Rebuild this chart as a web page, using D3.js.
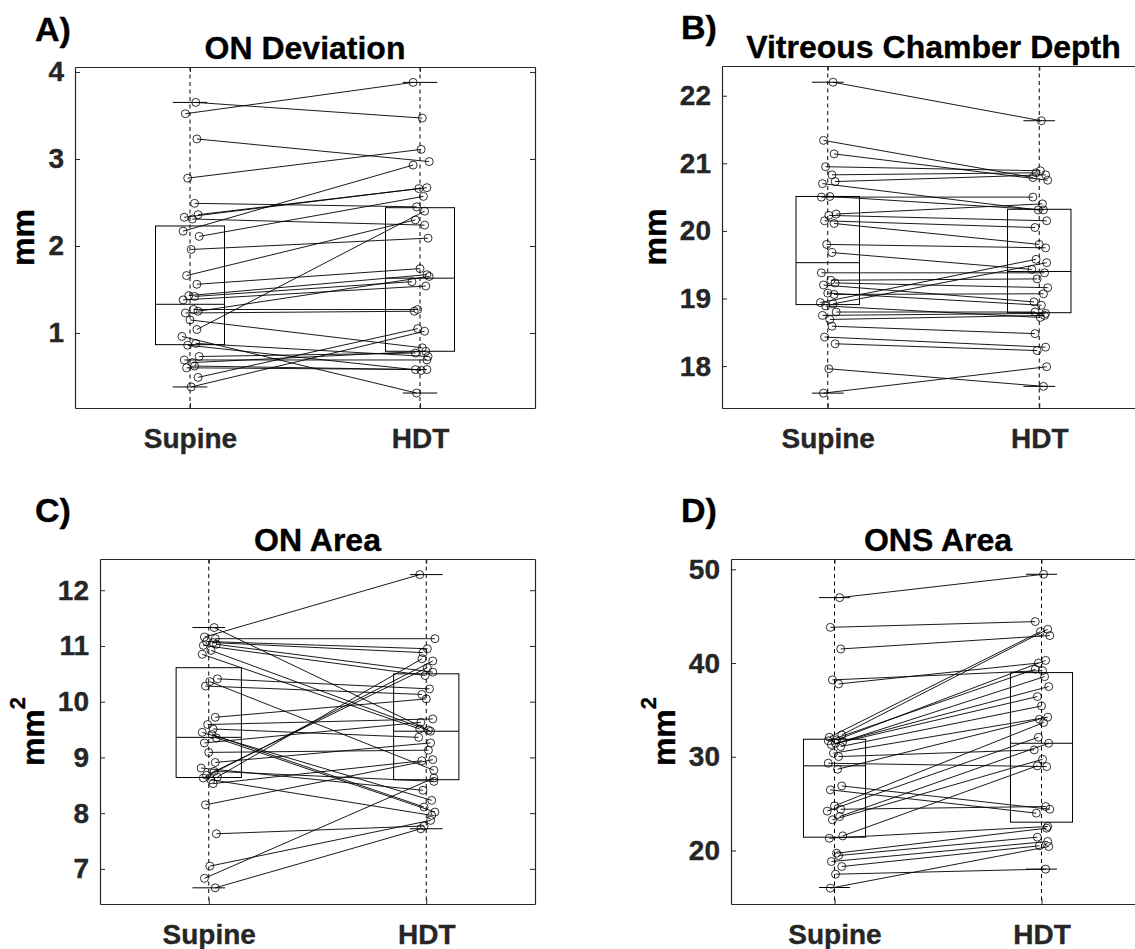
<!DOCTYPE html>
<html>
<head>
<meta charset="utf-8">
<script src="https://cdn.jsdelivr.net/npm/d3@7"></script>
<style>
  body { margin: 0; background: #fff; }
  svg { display: block; font-family: "Liberation Sans", Arial, Helvetica, sans-serif; }
</style>
</head>
<body>
<svg id="fig" width="1135" height="949"></svg>
<script>
// ---- data -------------------------------------------------------------
const groups = ["Supine", "HDT"];

// A) ON deviation (mm), paired by subject
const onDevSupine = [3.65, 3.52, 3.23, 2.78, 2.49, 2.36, 2.33, 2.31, 2.17, 2.11, 1.96, 1.66, 1.56, 1.43, 1.42, 1.38,
                     1.27, 1.25, 1.23, 1.15, 1.04, 0.96, 0.88, 0.86, 0.73, 0.69, 0.66, 0.62, 0.60, 0.49, 0.38];
const onDevHDT    = [3.47, 3.88, 2.97, 3.11, 2.45, 2.67, 2.66, 2.24, 2.93, 2.57, 2.09, 2.30, 1.74, 1.67, 1.59, 1.54,
                     1.27, 1.65, 1.25, 0.83, 2.40, 0.31, 0.73, 0.57, 0.77, 0.69, 0.79, 0.58, 0.58, 1.05, 1.02];
// box statistics [lower whisker, Q1, median, Q3, upper whisker]
const onDevBoxSupine = [0.38, 0.866, 1.33, 2.23, 3.65];
const onDevBoxHDT    = [0.31, 0.79, 1.63, 2.44, 3.88];
const onDevTicks = [1, 2, 3, 4];
const onDevRange = [0.138, 4.057];

// B) Vitreous chamber depth (mm)
const vcdSupine = [22.20, 21.34, 21.14, 20.95, 20.83, 20.73, 20.70, 20.51, 20.50, 20.25, 20.23, 20.15, 20.11, 19.80,
                   19.68, 19.38, 19.27, 19.23, 19.20, 19.08, 19.06, 18.94, 18.92, 18.89, 18.80, 18.75, 18.69, 18.59,
                   18.43, 18.33, 17.96, 17.60];
const vcdHDT    = [21.63, 20.79, 20.75, 20.89, 20.86, 20.83, 20.31, 20.31, 20.50, 20.40, 20.15, 20.05, 19.80, 19.75,
                   19.43, 19.38, 19.29, 19.16, 18.95, 18.90, 19.07, 19.58, 19.53, 18.72, 18.80, 18.78, 18.75, 18.48,
                   18.28, 18.23, 17.70, 17.99];
const vcdBoxSupine = [17.60, 18.91, 19.53, 20.51, 22.20];
const vcdBoxHDT    = [17.70, 18.79, 19.40, 20.32, 21.63];
const vcdTicks = [18, 19, 20, 21, 22];
const vcdRange = [17.38, 22.44];

// C) ON area (mm^2)
const onAreaSupine = [11.33, 11.16, 11.13, 11.08, 11.06, 11.03, 11.01, 10.92, 10.85, 10.41, 10.36, 10.28, 9.72, 9.59,
                      9.51, 9.45, 9.41, 9.35, 9.26, 9.09, 8.91, 8.81, 8.75, 8.68, 8.65, 8.63, 8.60, 8.53, 8.15, 7.63,
                      7.05, 6.83, 6.66];
const onAreaHDT    = [9.49, 12.28, 11.13, 10.95, 10.88, 10.53, 10.47, 9.47, 9.51, 10.23, 8.77, 10.13, 10.05, 9.69,
                      9.36, 8.23, 8.11, 8.02, 9.63, 9.13, 9.26, 8.41, 8.57, 10.61, 10.77, 10.73, 7.96, 8.94, 8.96, 7.77,
                      7.87, 8.63, 7.72];
const onAreaBoxSupine = [6.66, 8.64, 9.36, 10.61, 11.33];
const onAreaBoxHDT    = [7.72, 8.60, 9.47, 10.50, 12.28];
const onAreaTicks = [7, 8, 9, 10, 11, 12];
const onAreaRange = [6.37, 12.56];

// D) ONS area (mm^2)
const onsAreaSupine = [46.98, 43.81, 41.50, 38.20, 37.77, 32.33, 32.08, 31.80, 31.70, 31.62, 31.44, 31.30, 31.09, 30.38,
                       30.02, 29.31, 28.67, 26.89, 26.47, 24.76, 24.40, 24.20, 23.62, 23.27, 21.56, 21.31, 19.71, 19.46,
                       18.82, 18.29, 17.47, 15.98];
const onsAreaHDT    = [49.47, 44.42, 42.93, 39.19, 40.00, 43.60, 43.35, 40.28, 39.34, 38.55, 37.49, 36.42, 35.42, 34.22,
                       30.73, 28.95, 34.00, 24.40, 23.98, 33.65, 24.69, 32.08, 31.44, 29.73, 29.03, 22.56, 22.38, 21.42,
                       20.96, 20.50, 18.01, 20.42];
const onsAreaBoxSupine = [16.05, 21.42, 29.03, 31.87, 46.98];
const onsAreaBoxHDT    = [18.01, 23.02, 31.44, 38.98, 49.47];
const onsAreaTicks = [20, 30, 40, 50];
const onsAreaRange = [14.29, 51.1];

// small horizontal scatter of the markers around each group (group units)
const jitter = [0.025, -0.02, 0.03, -0.01, 0.02, 0.035, -0.025, 0.01, -0.03, 0.04, 0.005, -0.015, 0.03, -0.005, 0.02,
                -0.03, 0.015, 0.035, -0.02, 0.0, 0.03, -0.035, 0.025, -0.01, 0.04, -0.025, 0.01, 0.02, -0.015, 0.035,
                0.005, -0.02, 0.03];

// ---- layout -----------------------------------------------------------
const panels = [
  { letter: "A)", title: "ON Deviation", unit: "mm", sq: false,
    s: onDevSupine, h: onDevHDT, boxS: onDevBoxSupine, boxH: onDevBoxHDT, ticks: onDevTicks, range: onDevRange,
    frame: { l: 75, r: 535, t: 67, b: 408 }, lx: 35, ly: 41 },
  { letter: "B)", title: "Vitreous Chamber Depth", unit: "mm", sq: false,
    s: vcdSupine, h: vcdHDT, boxS: vcdBoxSupine, boxH: vcdBoxHDT, ticks: vcdTicks, range: vcdRange,
    frame: { l: 722, r: 1145, t: 66, b: 408 }, lx: 681, ly: 39 },
  { letter: "C)", title: "ON Area", unit: "mm", sq: true,
    s: onAreaSupine, h: onAreaHDT, boxS: onAreaBoxSupine, boxH: onAreaBoxHDT, ticks: onAreaTicks, range: onAreaRange,
    frame: { l: 100, r: 535, t: 559, b: 904 }, lx: 35, ly: 522 },
  { letter: "D)", title: "ONS Area", unit: "mm", sq: true,
    s: onsAreaSupine, h: onsAreaHDT, boxS: onsAreaBoxSupine, boxH: onsAreaBoxHDT, ticks: onsAreaTicks, range: onsAreaRange,
    frame: { l: 731, r: 1145, t: 559, b: 904 }, lx: 681, ly: 522 }
];

const svg = d3.select("#fig");
const axisCol = "#262626";

// bold text, slightly thickened like the exported figure
function heavy(sel, col) {
  return sel.attr("font-weight", "bold").attr("fill", col).attr("stroke", col).attr("stroke-width", 0.35);
}

panels.forEach(p => {
  const f = p.frame;
  const g = svg.append("g");
  const x = d3.scaleLinear().domain([0.5, 2.5]).range([f.l, f.r]);
  const y = d3.scaleLinear().domain(p.range).range([f.b, f.t]);

  // panel letter and title
  heavy(g.append("text").attr("x", p.lx).attr("y", p.ly).attr("font-size", 34), "#000").text(p.letter);
  heavy(g.append("text").attr("x", (f.l + f.r) / 2).attr("y", f.t - 8)
    .attr("text-anchor", "middle").attr("font-size", 32), "#000").text(p.title);

  const plot = g.append("g");

  // dashed group guides (whiskers)
  [1, 2].forEach(k => {
    plot.append("line")
      .attr("x1", x(k)).attr("x2", x(k)).attr("y1", f.t).attr("y2", f.b)
      .attr("stroke", "#000").attr("stroke-width", 1).attr("stroke-dasharray", "4,3.5");
  });

  // boxes, medians, whisker caps
  [p.boxS, p.boxH].forEach((b, i) => {
    const k = i + 1;
    plot.append("rect")
      .attr("x", x(k - 0.15)).attr("width", x(k + 0.15) - x(k - 0.15))
      .attr("y", y(b[3])).attr("height", y(b[1]) - y(b[3]))
      .attr("fill", "none").attr("stroke", "#000").attr("stroke-width", 1);
    plot.append("line")
      .attr("x1", x(k - 0.15)).attr("x2", x(k + 0.15)).attr("y1", y(b[2])).attr("y2", y(b[2]))
      .attr("stroke", "#000").attr("stroke-width", 1);
    [b[0], b[4]].forEach(v => {
      plot.append("line")
        .attr("x1", x(k - 0.075)).attr("x2", x(k + 0.075)).attr("y1", y(v)).attr("y2", y(v))
        .attr("stroke", "#000").attr("stroke-width", 1);
    });
  });

  // paired subject lines
  const pairs = p.s.map((v, i) => ({ s: v, h: p.h[i], js: jitter[i % jitter.length], jh: jitter[(i + 7) % jitter.length] }));
  plot.selectAll("line.pair").data(pairs).enter().append("line")
    .attr("class", "pair")
    .attr("x1", d => x(1 + d.js)).attr("y1", d => y(d.s))
    .attr("x2", d => x(2 + d.jh)).attr("y2", d => y(d.h))
    .attr("stroke", "#000").attr("stroke-width", 0.9);

  // markers
  const pts = [];
  pairs.forEach(d => { pts.push({ x: 1 + d.js, v: d.s }); pts.push({ x: 2 + d.jh, v: d.h }); });
  plot.selectAll("circle").data(pts).enter().append("circle")
    .attr("cx", d => x(d.x)).attr("cy", d => y(d.v)).attr("r", 4)
    .attr("fill", "none").attr("stroke", "#000").attr("stroke-width", 0.8);

  // axes (box on, inward ticks)
  const yl = g.append("g").attr("transform", `translate(${f.l},0)`)
    .call(d3.axisLeft(y).tickValues(p.ticks).tickFormat(d3.format("d"))
      .tickSizeInner(-5).tickSizeOuter(0).tickPadding(11));
  const yr = g.append("g").attr("transform", `translate(${f.r},0)`)
    .call(d3.axisRight(y).tickValues(p.ticks).tickSizeInner(-5).tickSizeOuter(0).tickFormat(""));
  const xb = g.append("g").attr("transform", `translate(0,${f.b})`)
    .call(d3.axisBottom(x).tickValues([1, 2]).tickSizeInner(-5).tickSizeOuter(0).tickPadding(20)
      .tickFormat(d => groups[d - 1]));
  const xt = g.append("g").attr("transform", `translate(0,${f.t})`)
    .call(d3.axisTop(x).tickValues([1, 2]).tickSizeInner(-5).tickSizeOuter(0).tickFormat(""));

  [yl, yr, xb, xt].forEach(a => {
    a.select(".domain").attr("stroke", axisCol).attr("stroke-width", 1.2);
    a.selectAll(".tick line").attr("stroke", axisCol).attr("stroke-width", 1);
    heavy(a.selectAll(".tick text").attr("font-size", 28)
      .attr("font-family", "\"Liberation Sans\", Arial, Helvetica, sans-serif"), axisCol);
  });

  // y-axis unit label, placed just left of the tick labels
  let minX = Infinity;
  yl.selectAll(".tick text").each(function () {
    const bb = this.getBBox();
    minX = Math.min(minX, f.l + bb.x);
  });
  const lab = heavy(g.append("text")
    .attr("transform", `translate(${minX - 14},${(f.t + f.b) / 2}) rotate(-90)`)
    .attr("text-anchor", "middle").attr("font-size", 32), "#000")
    .text(p.unit);
  if (p.sq) {
    lab.append("tspan").attr("font-size", 22).attr("dy", -19).text("2");
  }
});
</script>
</body>
</html>
